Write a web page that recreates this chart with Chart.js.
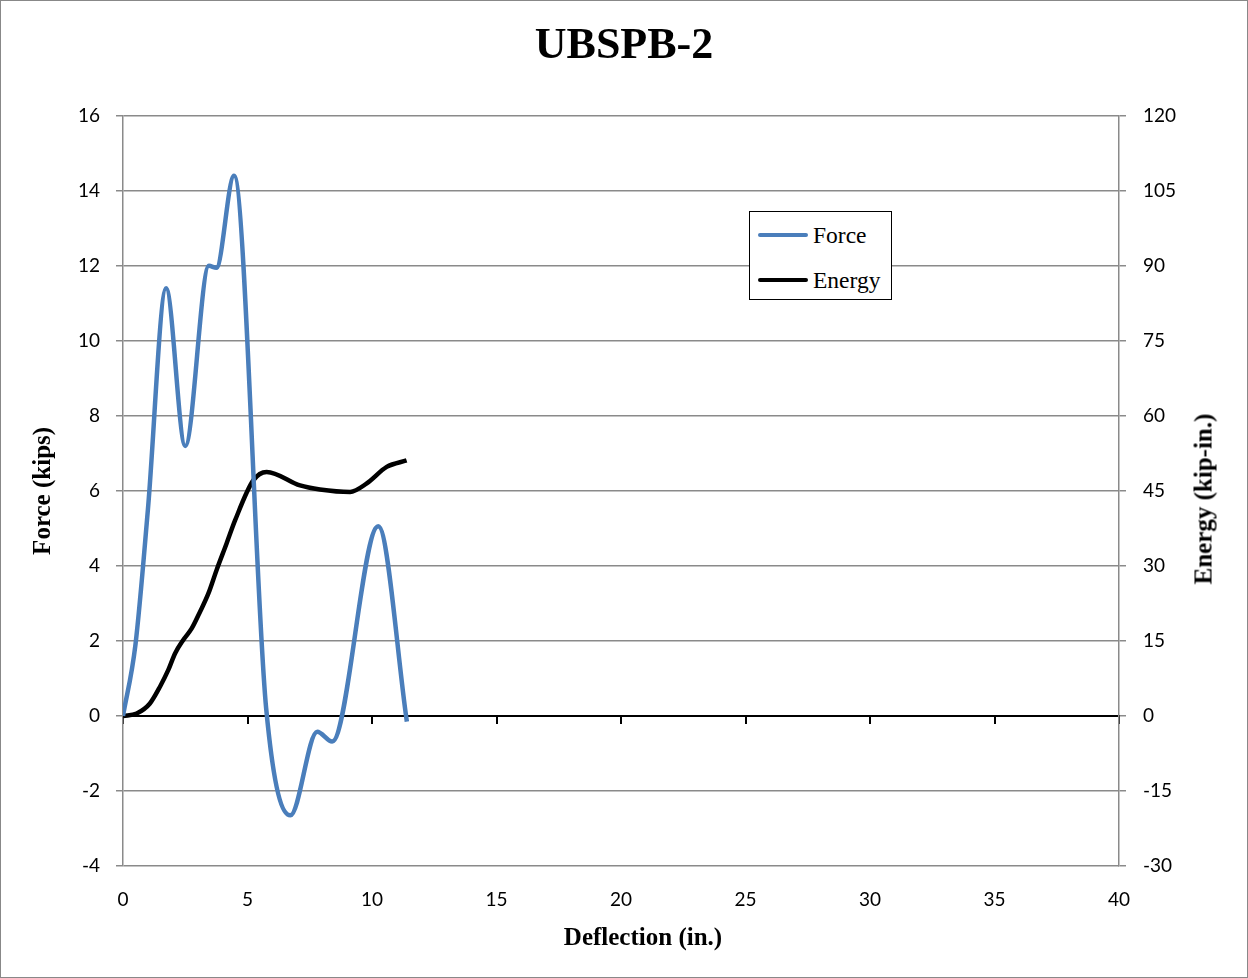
<!DOCTYPE html>
<html>
<head>
<meta charset="utf-8">
<script src="https://cdn.jsdelivr.net/npm/chart.js@4.4.1/dist/chart.umd.min.js"></script>
<style>
  body { margin: 0; background: #fff; }
  #wrap { position: relative; width: 1248px; height: 978px; }
  #frame { position: absolute; left: 0; top: 0; width: 1246px; height: 976px; border: 1px solid #888; pointer-events: none; }
  #legend {
    position: absolute; left: 749px; top: 211px; width: 141px; height: 87px;
    border: 1px solid #000; background: #fff;
    font-family: "Liberation Serif", "Times New Roman", serif; font-size: 23.5px;
  }
  #legend .item { position: absolute; left: 8px; height: 24px; line-height: 24px; }
  #legend .swatch { position: absolute; left: 0; top: 10px; width: 50px; height: 4px; border-radius: 2px; }
  #legend .label { position: absolute; left: 55px; top: 0; white-space: nowrap; }
  .axisTitle {
    position: absolute; font-family: "Liberation Serif", "Times New Roman", serif;
    font-size: 25px; font-weight: bold; white-space: nowrap; line-height: 1;
  }
  #rightTitle { left: 1203px; top: 499px; transform: translate(-50%, -50%) rotate(-90deg); }
  #bottomTitle { left: 643px; top: 936px; transform: translate(-50%, -50%); }
</style>
</head>
<body>
<div id="wrap">
  <canvas id="chart" width="1248" height="978"></canvas>
  <div id="legend">
    <div class="item" style="top:11px"><span class="swatch" style="background:#4a7ebb"></span><span class="label">Force</span></div>
    <div class="item" style="top:56px"><span class="swatch" style="background:#000"></span><span class="label">Energy</span></div>
  </div>
  <div id="rightTitle" class="axisTitle">Energy (kip-in.)</div>
  <div id="bottomTitle" class="axisTitle">Deflection (in.)</div>
  <div id="frame"></div>
</div>
<script>
// -------------------------
// Data
// -------------------------
const forceDeflection = [0, 0.5, 1.0, 1.73, 2.5, 3.45, 3.75, 4.46, 5.75, 6.72, 7.8, 8.4, 10.25, 11.4];
const forceValues     = [0, 1.9, 5.5, 11.4, 7.2, 12.0, 11.95, 14.4, 0.2, -2.65, -0.42, -0.68, 5.06, -0.15];

const energyDeflection = [0, 0.55, 1.08, 1.49, 1.82, 2.09, 2.42, 2.76, 3.09, 3.43, 3.76, 4.16, 4.5, 5.23, 5.77, 7.11, 7.91, 9.12, 9.79, 10.59, 11.39];
const energyValues     = [0, 0.5, 2.5, 5.9, 9.2, 12.5, 15.2, 17.5, 20.8, 24.5, 29.2, 34.5, 39.1, 47.1, 48.8, 46.1, 45.3, 44.8, 46.5, 49.8, 51.1];

const xTicks = [0, 5, 10, 15, 20, 25, 30, 35, 40];
const forceTicks = [-4, -2, 0, 2, 4, 6, 8, 10, 12, 14, 16];
const energyTicks = [-30, -15, 0, 15, 30, 45, 60, 75, 90, 105, 120];

const toPoints = (xs, ys) => xs.map((x, i) => ({ x: x, y: ys[i] }));

const serif = "'Liberation Serif', 'Times New Roman', serif";
const sans = "Lato, 'Open Sans', sans-serif";
const gridGray = '#8a8a8a';

new Chart(document.getElementById('chart'), {
    type: 'line',
    data: {
        datasets: [
            {
                label: 'Force',
                data: toPoints(forceDeflection, forceValues),
                borderColor: '#4a7ebb',
                borderWidth: 4.5,
                pointRadius: 0,
                cubicInterpolationMode: 'monotone',
                yAxisID: 'y',
                xAxisID: 'x'
            },
            {
                label: 'Energy',
                data: toPoints(energyDeflection, energyValues),
                borderColor: '#000000',
                borderWidth: 4.5,
                pointRadius: 0,
                cubicInterpolationMode: 'monotone',
                yAxisID: 'y2',
                xAxisID: 'x'
            }
        ]
    },
    options: {
        responsive: false,
        animation: false,
        layout: { padding: { left: 0, right: 0, top: 20, bottom: 0 } },
        plugins: {
            legend: { display: false },
            tooltip: { enabled: false },
            title: {
                display: true,
                text: 'UBSPB-2',
                color: '#000',
                font: { family: serif, size: 44, weight: 'bold' },
                padding: { top: 0, bottom: 43 }
            }
        },
        scales: {
            x: {
                type: 'linear',
                position: 'bottom',
                min: 0,
                max: 40,
                afterBuildTicks: s => { s.ticks = xTicks.map(v => ({ value: v })); },
                afterFit: s => { s.height = 112; },
                grid: { display: false, drawTicks: false },
                border: { display: false },
                ticks: { color: '#000', padding: 22, font: { family: sans, size: 19 } },
                title: { display: false }
            },
            // zero line with the small tick marks
            x2: {
                type: 'linear',
                position: { y: 0 },
                min: 0,
                max: 40,
                afterBuildTicks: s => { s.ticks = xTicks.map(v => ({ value: v })); },
                grid: { drawOnChartArea: false, drawTicks: true, tickLength: 7, color: '#000', lineWidth: 2 },
                border: { display: true, color: '#000', width: 2 },
                ticks: { display: false }
            },
            y: {
                type: 'linear',
                position: 'left',
                min: -4,
                max: 16,
                afterBuildTicks: s => { s.ticks = forceTicks.map(v => ({ value: v })); },
                afterFit: s => { s.width = 123; },
                grid: { color: gridGray, lineWidth: 1.5, tickLength: 7 },
                border: { color: gridGray, width: 1.5 },
                ticks: { color: '#000', padding: 16, font: { family: sans, size: 19 } },
                title: {
                    display: true,
                    text: 'Force (kips)',
                    color: '#000',
                    font: { family: serif, size: 25, weight: 'bold' },
                    padding: { top: 29, bottom: 0 }
                }
            },
            y2: {
                type: 'linear',
                position: 'right',
                min: -30,
                max: 120,
                afterBuildTicks: s => { s.ticks = energyTicks.map(v => ({ value: v })); },
                afterFit: s => { s.width = 129; },
                grid: { drawOnChartArea: false, color: gridGray, lineWidth: 1.5, tickLength: 7 },
                border: { color: gridGray, width: 1.5 },
                ticks: { color: '#000', padding: 17, font: { family: sans, size: 19 } },
                title: { display: false }
            }
        }
    }
});
</script>
</body>
</html>
